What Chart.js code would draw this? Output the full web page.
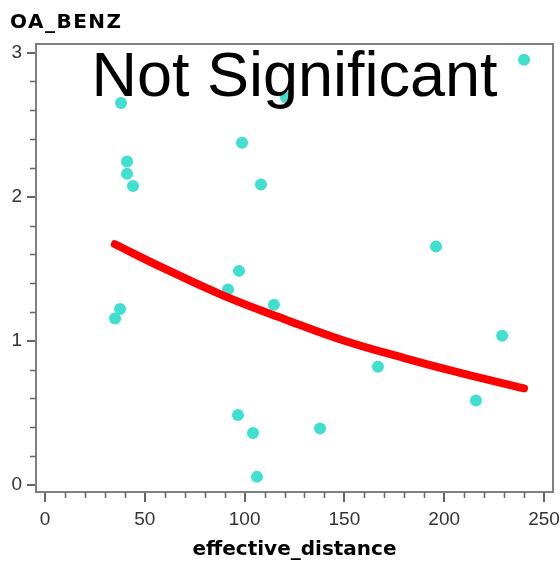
<!DOCTYPE html>
<html>
<head>
<meta charset="utf-8">
<script src="https://cdn.jsdelivr.net/npm/chart.js@4/dist/chart.umd.min.js"></script>
<style>
  body { margin: 0; background: #fff; }
  #wrap { width: 560px; height: 562px; }
</style>
</head>
<body>
<div id="wrap"><canvas id="benzChart" width="560" height="562"></canvas></div>
<script>
// Dữ liệu
var distance = [240, 38.1, 120.7, 98.7, 41.1, 41.1, 44.1, 108.2, 97.2, 91.7, 114.7,
                37.6, 35.1, 96.7, 104.2, 106.2, 137.8, 195.9, 229, 166.8, 215.9];
var benz = [2.95, 2.65, 2.69, 2.375, 2.245, 2.16, 2.075, 2.085, 1.485, 1.355, 1.25,
            1.22, 1.155, 0.485, 0.36, 0.055, 0.39, 1.655, 1.035, 0.82, 0.585];

// Đường hồi quy
var fitX = [35, 60, 90, 120, 150, 180, 210, 240];
var fitY = [1.67, 1.50, 1.31, 1.15, 1.00, 0.88, 0.77, 0.67];

// Nhãn trục
var xTicks = [0, 50, 100, 150, 200, 250];
var yTicks = [0, 1, 2, 3];
var xMinorStep = 10;
var yMinorStep = 0.2;

var axisColor = '#808080';

// Vẽ khung, vạch phụ và chữ
var decorPlugin = {
    id: 'decor',
    afterDraw: function (chart) {
        var c = chart.ctx;
        var a = chart.chartArea;
        var xs = chart.scales.x, ys = chart.scales.y;
        c.save();
        // khung trên + phải
        c.strokeStyle = axisColor;
        c.lineWidth = 2;
        c.beginPath();
        c.moveTo(a.left, a.top);
        c.lineTo(a.right, a.top);
        c.lineTo(a.right, a.bottom);
        c.stroke();
        // vạch phụ
        c.lineWidth = 1.5;
        c.strokeStyle = '#666';
        c.beginPath();
        for (var v = xMinorStep; v < 255; v += xMinorStep) {
            if (Math.abs(v % 50) < 1e-6) continue;
            var px = Math.round(xs.getPixelForValue(v)) + 0.5;
            c.moveTo(px, a.bottom);
            c.lineTo(px, a.bottom + 6);
        }
        for (var k = 1; k < 16; k++) {
            if (k % 5 === 0) continue;
            var py = Math.round(ys.getPixelForValue(k * yMinorStep)) + 0.5;
            c.moveTo(a.left, py);
            c.lineTo(a.left - 6, py);
        }
        c.stroke();
        // chữ
        c.fillStyle = '#000';
        c.textBaseline = 'alphabetic';
        c.font = 'bold 20px "DejaVu Sans"';
        c.letterSpacing = '1.5px';
        c.textAlign = 'left';
        c.fillText('OA_BENZ', 10, 28);
        c.letterSpacing = '0px';
        c.font = '63px "Liberation Sans"';
        c.textAlign = 'center';
        c.fillText('Not Significant', (a.left + a.right) / 2, 96);
        c.restore();
    }
};

var ctx = document.getElementById('benzChart').getContext('2d');

var benzChart = new Chart(ctx, {
    data: {
        datasets: [{
            type: 'scatter',
            data: distance.map(function (d, i) { return { x: d, y: benz[i] }; }),
            backgroundColor: 'rgb(64, 224, 208)',
            borderWidth: 0,
            pointRadius: 6,
            pointHoverRadius: 6,
            order: 2
        }, {
            type: 'line',
            data: fitX.map(function (d, i) { return { x: d, y: fitY[i] }; }),
            borderColor: '#ff0000',
            borderWidth: 8,
            borderCapStyle: 'round',
            pointRadius: 0,
            tension: 0.4,
            fill: false,
            order: 1
        }]
    },
    options: {
        responsive: false,
        animation: false,
        devicePixelRatio: 1,
        layout: { padding: { top: 44, right: 7, left: 0, bottom: 0 } },
        plugins: {
            legend: { display: false },
            tooltip: { enabled: false }
        },
        scales: {
            x: {
                type: 'linear',
                min: -4.5,
                max: 254.5,
                afterFit: function (s) {
                    s.height = 70;
                    s.paddingLeft = 0;
                    s.paddingRight = 0;
                },
                afterBuildTicks: function (s) {
                    s.ticks = xTicks.map(function (v) { return { value: v }; });
                },
                ticks: {
                    font: { family: 'Liberation Sans', size: 19 },
                    color: '#333',
                    padding: 6,
                    maxRotation: 0
                },
                grid: { drawOnChartArea: false, tickLength: 10, color: '#666', lineWidth: 2 },
                border: { color: axisColor, width: 2 },
                title: {
                    display: true,
                    text: 'effective_distance',
                    font: { family: 'DejaVu Sans', size: 20, weight: 'bold' },
                    color: '#000',
                    padding: { top: 0, bottom: 0 }
                }
            },
            y: {
                type: 'linear',
                min: -0.05,
                max: 3.06,
                afterFit: function (s) {
                    s.width = 36;
                    s.paddingTop = 0;
                    s.paddingBottom = 0;
                },
                afterBuildTicks: function (s) {
                    s.ticks = yTicks.map(function (v) { return { value: v }; });
                },
                ticks: {
                    font: { family: 'Liberation Sans', size: 19 },
                    color: '#333',
                    padding: 5
                },
                grid: { drawOnChartArea: false, tickLength: 9, color: '#666', lineWidth: 2 },
                border: { color: axisColor, width: 2 }
            }
        }
    },
    plugins: [decorPlugin]
});
</script>
</body>
</html>
